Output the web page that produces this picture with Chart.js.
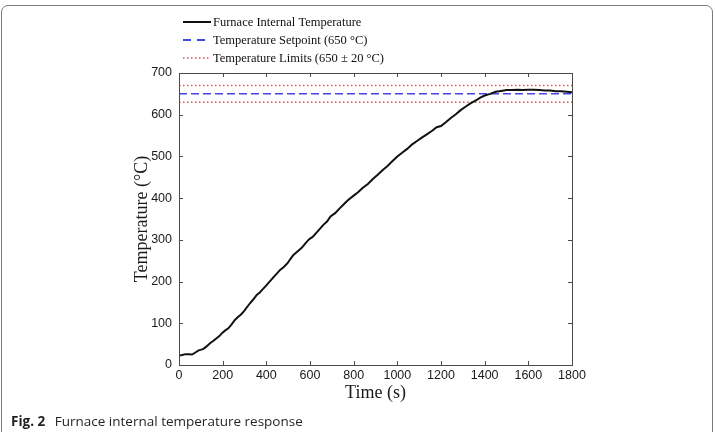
<!DOCTYPE html>
<html>
<head>
<meta charset="utf-8">
<script src="https://cdn.jsdelivr.net/npm/chart.js@4"></script>
<style>
  html, body { margin: 0; padding: 0; background: #fff; }
  #wrap { position: relative; width: 715px; height: 432px; overflow: hidden; }
  #frame { position: absolute; left: 1px; top: 5px; width: 710px; height: 500px;
           border: 1.5px solid #7a7a7a; border-radius: 7px; pointer-events: none; }
  #caption { position: absolute; left: 11px; top: 412px; font-family: "Open Sans", sans-serif;
             font-size: 13.5px; color: #231f20; white-space: nowrap; }
  #caption b { font-weight: 700; margin-right: 6px; }
  canvas { position: absolute; left: 0; top: 0; }
</style>
</head>
<body>
<div id="wrap">
  <canvas id="c" width="715" height="432"></canvas>
  <div id="frame"></div>
  <div id="caption"><b>Fig. 2</b> Furnace internal temperature response</div>
</div>
<script>
// ---- data ----
const timeSec = [0,15,30,45,60,75,90,110,125,142,158,172,186,198,212,226,240,256,270,284,
  298,312,325,340,356,370,384,397,412,432,448,463,480,497,510,524,540,562,578,595,
  612,631,646,661,678,694,715,737,756,776,800,820,842,865,888,910,932,955,978,1000,
  1022,1045,1068,1090,1112,1135,1158,1180,1200,1222,1245,1268,1290,1312,1335,1358,1380,1400,1425,1450,
  1475,1500,1525,1550,1575,1600,1625,1650,1675,1700,1725,1750,1775,1800];
const furnaceTemp = [23,24,26,26,25,30,35,38,44,52,58,64,70,77,83,88,97,108,115,121,
  129,139,148,157,168,174,182,189,198,210,219,228,235,244,254,264,271,281,291,301,
  307,318,327,336,344,356,364,376,386,396,406,414,425,434,446,456,467,477,489,500,
  509,518,529,537,545,553,561,570,573,582,592,601,611,619,627,634,641,646,650,655,
  657,659,659,660,659,660,660,659,658,658,656,656,655,654];
const limitTime = [0, 1800];
const setpoint = 650;
const upperLimit = 670;
const lowerLimit = 630;
const xTicks = [0,200,400,600,800,1000,1200,1400,1600,1800];
const yTicks = [0,100,200,300,400,500,600,700];
const seriesLabels = ["Furnace Internal Temperature", "Temperature Setpoint (650 \u00B0C)", "Temperature Limits (650 \u00B1 20 \u00B0C)"];

const pts = (xs, ys) => xs.map((x, i) => ({x: x, y: ys[i]}));
const flat = (xs, v) => xs.map(x => ({x: x, y: v}));

const boxPlugin = {
  id: 'box',
  afterDatasetsDraw(chart) {
    const {ctx, chartArea: a, scales} = chart;
    ctx.save();
    ctx.strokeStyle = '#4a4a4a';
    ctx.lineWidth = 1;
    ctx.strokeRect(a.left + 0.5, a.top + 0.5, a.right - a.left, a.bottom - a.top);
    const tl = 4;
    ctx.beginPath();
    scales.x.ticks.forEach(t => {
      const px = Math.round(scales.x.getPixelForValue(t.value)) + 0.5;
      ctx.moveTo(px, a.bottom); ctx.lineTo(px, a.bottom - tl);
      ctx.moveTo(px, a.top); ctx.lineTo(px, a.top + tl);
    });
    scales.y.ticks.forEach(t => {
      const py = Math.round(scales.y.getPixelForValue(t.value)) + 0.5;
      ctx.moveTo(a.left, py); ctx.lineTo(a.left + tl, py);
      ctx.moveTo(a.right, py); ctx.lineTo(a.right - tl, py);
    });
    ctx.stroke();
    ctx.restore();
  },
  afterDraw(chart) {
    const {ctx} = chart;
    const ds = chart.data.datasets;
    const entries = [ds[0], ds[1], ds[2]];
    const x0 = 183, x1 = 211, rows = [22, 40, 58];
    ctx.save();
    ctx.font = '12.5px "Liberation Serif", "Times New Roman", serif';
    ctx.textBaseline = 'middle';
    entries.forEach((d, i) => {
      ctx.beginPath();
      ctx.strokeStyle = d.borderColor;
      ctx.lineWidth = d.legendWidth;
      ctx.setLineDash(d.legendDash);
      ctx.moveTo(x0, rows[i]); ctx.lineTo(x1, rows[i]);
      ctx.stroke();
      ctx.setLineDash([]);
      ctx.fillStyle = '#111';
      ctx.fillText(seriesLabels[i], 213, rows[i] + 0.5);
    });
    ctx.restore();
  }
};

const tickFont = { family: '"Liberation Sans", Arial, sans-serif', size: 12.5 };

new Chart(document.getElementById('c'), {
  type: 'line',
  data: {
    datasets: [
      { label: seriesLabels[0], data: pts(timeSec, furnaceTemp), borderColor: '#111', borderWidth: 2,
        pointRadius: 0, tension: 0, legendWidth: 2, legendDash: [], order: 0 },
      { label: seriesLabels[1], data: flat(limitTime, setpoint), borderColor: 'rgb(70,70,235)', borderWidth: 1.5,
        borderDash: [8, 4], pointRadius: 0, legendWidth: 2, legendDash: [8, 6], order: 1 },
      { label: seriesLabels[2], data: flat(limitTime, upperLimit), borderColor: 'rgb(250,70,70)', borderWidth: 1.5,
        borderDash: [1.5, 2.5], pointRadius: 0, legendWidth: 1.5, legendDash: [1.5, 2.5], order: 2 },
      { label: seriesLabels[2], data: flat(limitTime, lowerLimit), borderColor: 'rgb(250,70,70)', borderWidth: 1.5,
        borderDash: [1.5, 2.5], pointRadius: 0, legendWidth: 1.5, legendDash: [1.5, 2.5], order: 3 }
    ]
  },
  options: {
    responsive: false,
    animation: false,
    devicePixelRatio: 1,
    layout: { padding: { left: 127, right: 143, top: 73, bottom: 24 } },
    plugins: { legend: { display: false }, tooltip: { enabled: false } },
    scales: {
      x: {
        type: 'linear', min: 0, max: 1800,
        afterBuildTicks: s => { s.ticks = xTicks.map(v => ({value: v})); },
        afterFit: s => { s.height = 43; },
        grid: { display: false, drawTicks: false },
        border: { display: false },
        ticks: { padding: 3, color: '#1a1a1a', font: tickFont, maxRotation: 0, callback: v => String(v) },
        title: { display: true, text: 'Time (s)', color: '#1a1a1a',
                 font: { family: '"Liberation Serif", "Times New Roman", serif', size: 18 } }
      },
      y: {
        type: 'linear', min: 0, max: 700,
        afterBuildTicks: s => { s.ticks = yTicks.map(v => ({value: v})); },
        afterFit: s => { s.width = 52; },
        grid: { display: false, drawTicks: false },
        border: { display: false },
        ticks: { padding: 7, color: '#1a1a1a', font: tickFont, callback: v => String(v) },
        title: { display: true, text: 'Temperature (\u00B0C)', color: '#1a1a1a',
                 font: { family: '"Liberation Serif", "Times New Roman", serif', size: 18 } }
      }
    }
  },
  plugins: [boxPlugin]
});
</script>
</body>
</html>
